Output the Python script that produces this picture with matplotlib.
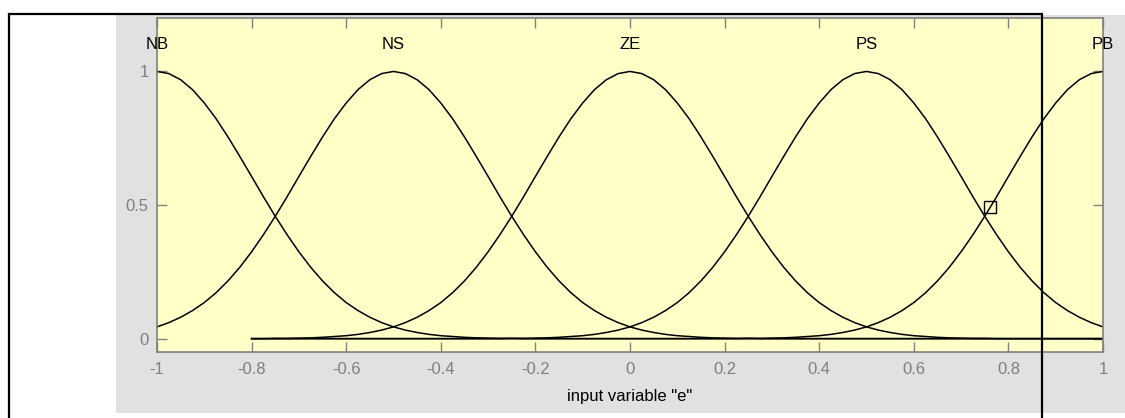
import matplotlib
matplotlib.use("Agg")
import matplotlib.pyplot as plt
from matplotlib.patches import Rectangle

plt.rcParams["font.family"] = ["Liberation Sans", "DejaVu Sans"]

# membership degree read at x = -1, -0.975, ..., 1 (81 points)
x_grid = [round(-1 + 0.025 * k, 3) for k in range(81)]
nan = float("nan")

mf_nb = [1.000, 0.992, 0.969, 0.932, 0.882, 0.823, 0.755, 0.682, 0.607, 0.531,
         0.458, 0.389, 0.325, 0.267, 0.216, 0.172, 0.135, 0.105, 0.080, 0.060,
         0.044, 0.032, 0.023, 0.016, 0.011, 0.008, 0.005, 0.003, 0.002, 0.001,
         0.001] + [0.0] * 50
mf_ns = [0.044, 0.060, 0.080, 0.105, 0.135, 0.172, 0.216, 0.267, 0.325, 0.389,
         0.458, 0.531, 0.607, 0.682, 0.755, 0.823, 0.882, 0.932, 0.969, 0.992,
         1.000, 0.992, 0.969, 0.932, 0.882, 0.823, 0.755, 0.682, 0.607, 0.531,
         0.458, 0.389, 0.325, 0.267, 0.216, 0.172, 0.135, 0.105, 0.080, 0.060,
         0.044, 0.032, 0.023, 0.016, 0.011, 0.008, 0.005, 0.003, 0.002, 0.001,
         0.001] + [0.0] * 30
mf_ze = [nan] * 8 + [0.0, 0.0,
         0.001, 0.001, 0.002, 0.003, 0.005, 0.008, 0.011, 0.016, 0.023, 0.032,
         0.044, 0.060, 0.080, 0.105, 0.135, 0.172, 0.216, 0.267, 0.325, 0.389,
         0.458, 0.531, 0.607, 0.682, 0.755, 0.823, 0.882, 0.932, 0.969, 0.992,
         1.000, 0.992, 0.969, 0.932, 0.882, 0.823, 0.755, 0.682, 0.607, 0.531,
         0.458, 0.389, 0.325, 0.267, 0.216, 0.172, 0.135, 0.105, 0.080, 0.060,
         0.044, 0.032, 0.023, 0.016, 0.011, 0.008, 0.005, 0.003, 0.002, 0.001,
         0.001] + [0.0] * 10
mf_ps = [nan] * 8 + [0.0] * 22 + [
         0.001, 0.001, 0.002, 0.003, 0.005, 0.008, 0.011, 0.016, 0.023, 0.032,
         0.044, 0.060, 0.080, 0.105, 0.135, 0.172, 0.216, 0.267, 0.325, 0.389,
         0.458, 0.531, 0.607, 0.682, 0.755, 0.823, 0.882, 0.932, 0.969, 0.992,
         1.000, 0.992, 0.969, 0.932, 0.882, 0.823, 0.755, 0.682, 0.607, 0.531,
         0.458, 0.389, 0.325, 0.267, 0.216, 0.172, 0.135, 0.105, 0.080, 0.060,
         0.044]
mf_pb = [nan] * 8 + [0.0] * 42 + [
         0.001, 0.001, 0.002, 0.003, 0.005, 0.008, 0.011, 0.016, 0.023, 0.032,
         0.044, 0.060, 0.080, 0.105, 0.135, 0.172, 0.216, 0.267, 0.325, 0.389,
         0.458, 0.531, 0.607, 0.682, 0.755, 0.823, 0.882, 0.932, 0.969, 0.992,
         1.000]

mf_names = ["NB", "NS", "ZE", "PS", "PB"]
mf_centers = [-1.0, -0.5, 0.0, 0.5, 1.0]
mf_values = [mf_nb, mf_ns, mf_ze, mf_ps, mf_pb]

marker_x, marker_y = 0.762, 0.494

x_ticks = [-1, -0.8, -0.6, -0.4, -0.2, 0, 0.2, 0.4, 0.6, 0.8, 1]
x_tick_labels = ["-1", "-0.8", "-0.6", "-0.4", "-0.2", "0", "0.2", "0.4", "0.6", "0.8", "1"]
y_ticks = [0, 0.5, 1]
y_tick_labels = ["0", "0.5", "1"]

W, H = 1125, 418
fig = plt.figure(figsize=(W / 100, H / 100), dpi=100)
fig.patch.set_facecolor("white")

# gray panel behind the axes
fig.patches.append(Rectangle((116 / W, (H - 413) / H), (W - 116) / W + 0.01, (413 - 15) / H,
                             transform=fig.transFigure, facecolor="#e1e1e1",
                             edgecolor="none", zorder=-5))

ax = fig.add_axes([157 / W, (H - 352) / H, (1103 - 157) / W, (352 - 18) / H])
ax.set_zorder(1)
ax.set_facecolor("#ffffc8")

for vals in mf_values:
    ax.plot(x_grid, vals, color="black", linewidth=1.1)

for name, cx in zip(mf_names, mf_centers):
    ax.text(cx, 1.1, name, ha="center", va="center", fontsize=12, color="black")

ax.plot([marker_x], [marker_y], marker="s", markersize=8, markerfacecolor="none",
        markeredgecolor="black", markeredgewidth=1.0)

ax.set_xlim(-1, 1)
ax.set_ylim(-0.05, 1.2)
ax.set_xticks(x_ticks)
ax.set_xticklabels(x_tick_labels)
ax.set_yticks(y_ticks)
ax.set_yticklabels(y_tick_labels)
ax.tick_params(direction="in", length=7, width=1, color="#808080",
               labelcolor="#7f7f7f", labelsize=12, top=True, right=True)
ax.tick_params(axis="x", pad=7)
ax.tick_params(axis="y", pad=6)
for spine in ax.spines.values():
    spine.set_color("#808080")
    spine.set_linewidth(1.2)

ax.set_xlabel('input variable "e"', fontsize=12, color="black", labelpad=9)

# black frame drawn over the figure
fig.patches.append(Rectangle((9 / W, -0.1), (1042 - 9) / W, (H - 14) / H + 0.1,
                             transform=fig.transFigure, facecolor="none",
                             edgecolor="black", linewidth=1.6, zorder=10))

fig.savefig("out.png", dpi=100)
